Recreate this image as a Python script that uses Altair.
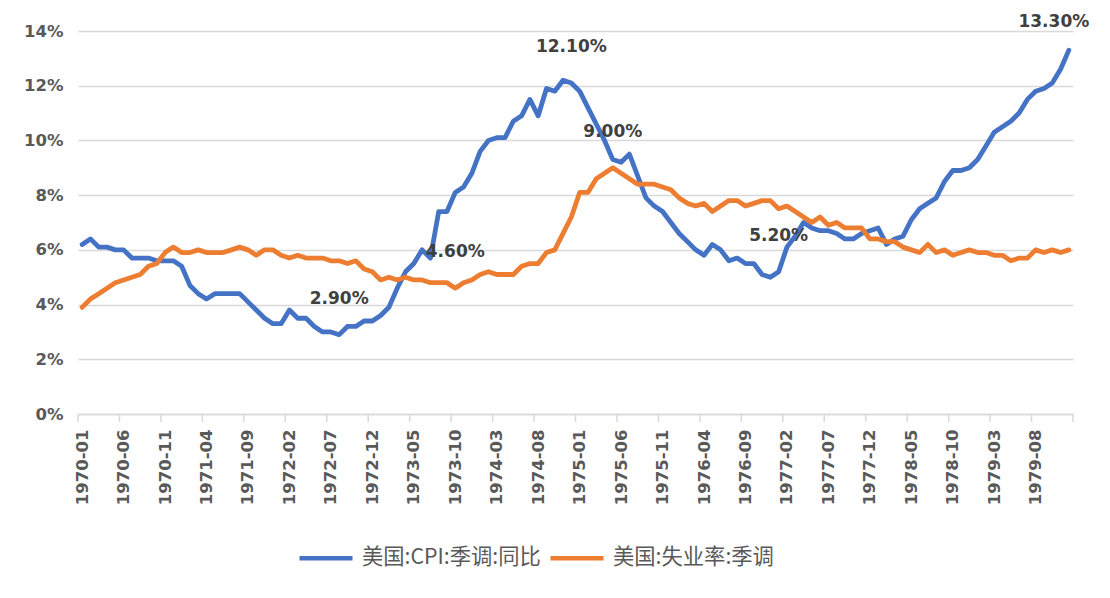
import altair as alt
import pandas as pd

# ---- data ----
months = [f"{y}-{m:02d}" for y in range(1970, 1980) for m in range(1, 13)]

series_names = ["美国:CPI:季调:同比", "美国:失业率:季调"]

cpi_yoy = [
    6.2, 6.4, 6.1, 6.1, 6.0, 6.0, 5.7, 5.7, 5.7, 5.6, 5.6, 5.6,
    5.4, 4.7, 4.4, 4.2, 4.4, 4.4, 4.4, 4.4, 4.1, 3.8, 3.5, 3.3,
    3.3, 3.8, 3.5, 3.5, 3.2, 3.0, 3.0, 2.9, 3.2, 3.2, 3.4, 3.4,
    3.6, 3.9, 4.6, 5.2, 5.5, 6.0, 5.7, 7.4, 7.4, 8.1, 8.3, 8.8,
    9.6, 10.0, 10.1, 10.1, 10.7, 10.9, 11.5, 10.9, 11.9, 11.8, 12.2, 12.1,
    11.8, 11.2, 10.6, 10.0, 9.3, 9.2, 9.5, 8.7, 7.9, 7.6, 7.4, 7.0,
    6.6, 6.3, 6.0, 5.8, 6.2, 6.0, 5.6, 5.7, 5.5, 5.5, 5.1, 5.0,
    5.2, 6.1, 6.5, 7.0, 6.8, 6.7, 6.7, 6.6, 6.4, 6.4, 6.6, 6.7,
    6.8, 6.2, 6.4, 6.5, 7.1, 7.5, 7.7, 7.9, 8.5, 8.9, 8.9, 9.0,
    9.3, 9.8, 10.3, 10.5, 10.7, 11.0, 11.5, 11.8, 11.9, 12.1, 12.6, 13.3,
]

unemployment = [
    3.9, 4.2, 4.4, 4.6, 4.8, 4.9, 5.0, 5.1, 5.4, 5.5, 5.9, 6.1,
    5.9, 5.9, 6.0, 5.9, 5.9, 5.9, 6.0, 6.1, 6.0, 5.8, 6.0, 6.0,
    5.8, 5.7, 5.8, 5.7, 5.7, 5.7, 5.6, 5.6, 5.5, 5.6, 5.3, 5.2,
    4.9, 5.0, 4.9, 5.0, 4.9, 4.9, 4.8, 4.8, 4.8, 4.6, 4.8, 4.9,
    5.1, 5.2, 5.1, 5.1, 5.1, 5.4, 5.5, 5.5, 5.9, 6.0, 6.6, 7.2,
    8.1, 8.1, 8.6, 8.8, 9.0, 8.8, 8.6, 8.4, 8.4, 8.4, 8.3, 8.2,
    7.9, 7.7, 7.6, 7.7, 7.4, 7.6, 7.8, 7.8, 7.6, 7.7, 7.8, 7.8,
    7.5, 7.6, 7.4, 7.2, 7.0, 7.2, 6.9, 7.0, 6.8, 6.8, 6.8, 6.4,
    6.4, 6.3, 6.3, 6.1, 6.0, 5.9, 6.2, 5.9, 6.0, 5.8, 5.9, 6.0,
    5.9, 5.9, 5.8, 5.8, 5.6, 5.7, 5.7, 6.0, 5.9, 6.0, 5.9, 6.0,
]

# data labels: (series index, month)
label_series = [0, 1, 0, 1, 0]
label_months = ["1972-08", "1973-10", "1974-12", "1975-05", "1977-01"]
end_label_month = "1979-12"

y_ticks = [0, 2, 4, 6, 8, 10, 12, 14]
x_label_step = 5

# ---- tables ----
rows = []
for i, m in enumerate(months):
    rows.append({"idx": i, "month": m, "series": series_names[0], "value": cpi_yoy[i]})
for i, m in enumerate(months):
    rows.append({"idx": i, "month": m, "series": series_names[1], "value": unemployment[i]})
df = pd.DataFrame(rows)

all_series = [cpi_yoy, unemployment]
lab_rows = []
for s, m in zip(label_series, label_months):
    i = months.index(m)
    v = all_series[s][i]
    lab_rows.append({"idx": i, "value": v, "text": f"{v:.2f}%"})
df_lab = pd.DataFrame(lab_rows)
ie = months.index(end_label_month)
df_end = pd.DataFrame([{"idx": ie, "value": cpi_yoy[ie], "text": f"{cpi_yoy[ie]:.2f}%"}])

df_ticks = pd.DataFrame({"b": [k - 0.5 for k in range(0, len(months) + 1, x_label_step)]})

W, H = 995, 383
GRID = "#D9D9D9"
TXT = "#595959"
LAB = "#404040"

x_scale = alt.Scale(domain=[-0.5, len(months) - 0.5], nice=False, zero=False)
y_scale = alt.Scale(domain=[0, 14], nice=False)

month_map = "{" + ",".join(f"'{i}':'{m}'" for i, m in enumerate(months)) + "}"

x_axis = alt.Axis(
    values=list(range(0, len(months), x_label_step)),
    labelExpr=f"{month_map}[''+datum.value]",
    labelAngle=270, labelAlign="right", labelBaseline="middle",
    labelPadding=15, ticks=False, grid=False,
    domain=True, domainColor=GRID, domainWidth=1.5,
    labelFont="DejaVu Sans", labelFontWeight="bold", labelFontSize=16.5, labelColor=TXT,
    labelOverlap=False, labelFlush=False, title=None,
)
y_axis = alt.Axis(
    values=y_ticks, labelExpr="datum.value + '%'",
    grid=True, gridColor=GRID, gridWidth=1.5,
    domain=False, ticks=False, labelPadding=15,
    labelFont="DejaVu Sans", labelFontWeight="bold", labelFontSize=16.5, labelColor=TXT,
    title=None,
)

color = alt.Color(
    "series:N",
    scale=alt.Scale(domain=series_names, range=["#4472C4", "#ED7D31"]),
    sort=series_names,
    legend=alt.Legend(
        title=None, orient="none", direction="horizontal",
        legendX=219, legendY=498,
        symbolType="stroke", symbolSize=2809, symbolStrokeWidth=4.5,
        labelFont="Noto Sans CJK SC", labelFontSize=21.3, labelColor=TXT,
        labelLimit=0, labelOffset=7, columnPadding=0, symbolOffset=0,
    ),
)

lines = alt.Chart(df).mark_line(strokeWidth=4.8, strokeJoin="round", strokeCap="round").encode(
    x=alt.X("idx:Q", scale=x_scale, axis=x_axis),
    y=alt.Y("value:Q", scale=y_scale, axis=y_axis),
    color=color,
    detail="series:N",
)

ticks = alt.Chart(df_ticks).mark_rule(color=GRID, strokeWidth=1.5).encode(
    x=alt.X("b:Q", scale=x_scale),
    y=alt.value(H),
    y2=alt.value(H + 8),
)

labels = alt.Chart(df_lab).mark_text(
    font="DejaVu Sans", fontSize=17, fontWeight="bold", color=LAB, dy=-36,
    baseline="middle", align="center"
).encode(
    x=alt.X("idx:Q", scale=x_scale),
    y=alt.Y("value:Q", scale=y_scale),
    text="text:N",
)

end_label = alt.Chart(df_end).mark_text(
    font="DejaVu Sans", fontSize=17, fontWeight="bold", color=LAB, dy=-28, dx=-15,
    baseline="middle", align="center"
).encode(
    x=alt.X("idx:Q", scale=x_scale),
    y=alt.Y("value:Q", scale=y_scale),
    text="text:N",
)

chart = alt.layer(ticks, lines, labels, end_label).properties(
    width=W, height=H,
    autosize=alt.AutoSizeParams(type="none"),
    padding={"left": 70, "top": 23, "right": 29, "bottom": 176},
    background="white",
).configure_view(stroke=None)

chart.save("out.html", embed_options={"renderer": "svg", "actions": False})
